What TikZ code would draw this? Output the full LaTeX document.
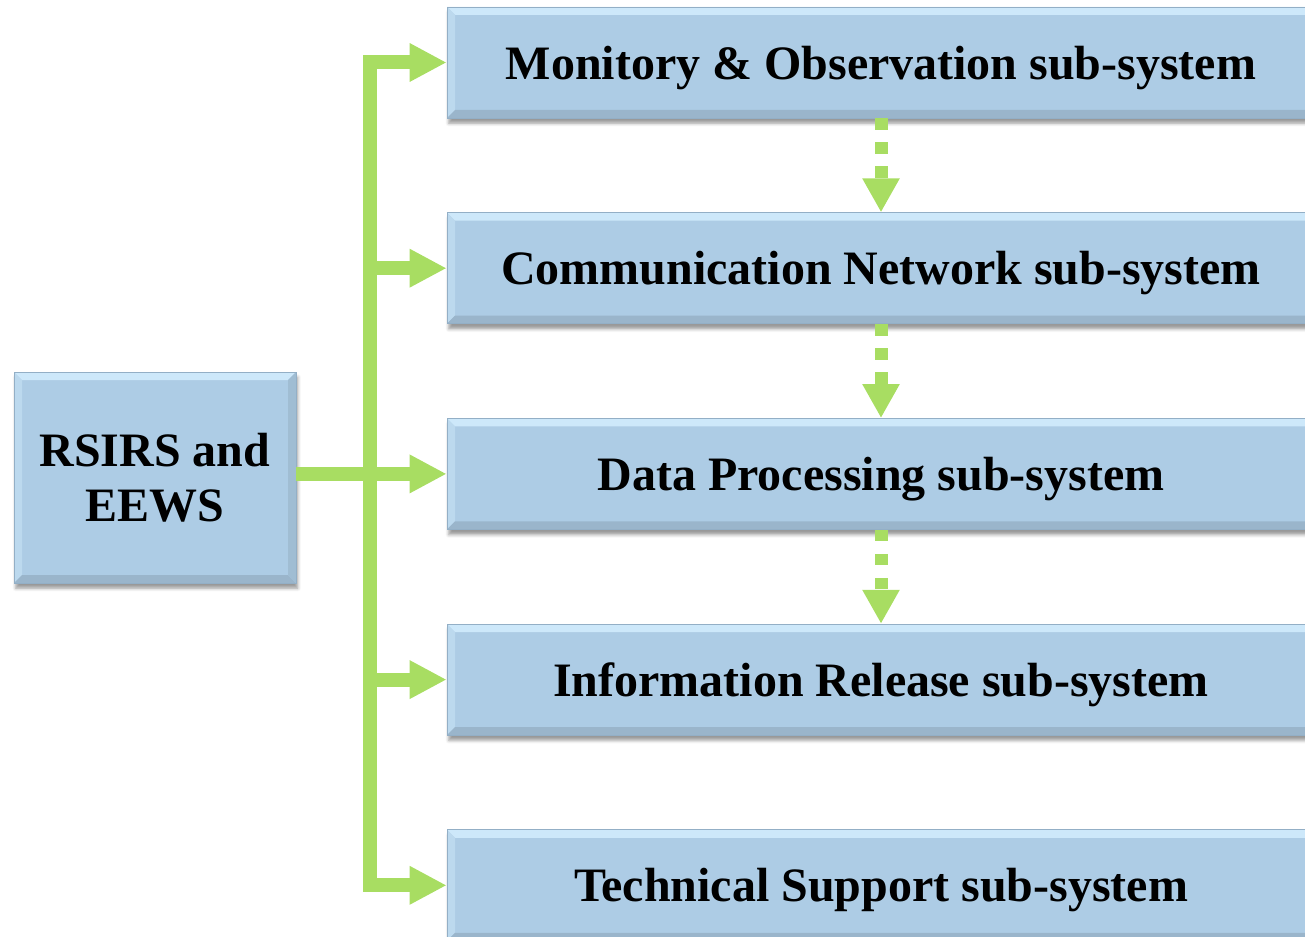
\documentclass[tikz,border=0pt]{standalone}
\usepackage{fontspec}
\setmainfont{Liberation Serif}
\usetikzlibrary{arrows.meta,positioning,shadows.blur}
\definecolor{boxblue}{HTML}{ADCCE5}
\definecolor{boxlight}{HTML}{CDE8FA}
\definecolor{boxside}{HTML}{BCD9EE}
\definecolor{boxdark}{HTML}{9AB5CB}
\definecolor{boxright}{HTML}{A0BDD3}
\definecolor{boxedge}{HTML}{93AFC6}
\definecolor{leafgreen}{HTML}{A8DD62}
\newcommand{\bv}{0.16cm}
\tikzset{
  bevel/.style={path picture={
    \path (path picture bounding box.north west) coordinate (pnw)
          (path picture bounding box.north east) coordinate (pne)
          (path picture bounding box.south west) coordinate (psw)
          (path picture bounding box.south east) coordinate (pse);
    \fill[boxlight] (pnw) -- (pne) -- ([shift={(-\bv,-\bv)}]pne) -- ([shift={(\bv,-\bv)}]pnw) -- cycle;
    \fill[boxside] (pnw) -- (psw) -- ([shift={(\bv,\bv)}]psw) -- ([shift={(\bv,-\bv)}]pnw) -- cycle;
    \fill[boxdark] (psw) -- (pse) -- ([shift={(-\bv,\bv)}]pse) -- ([shift={(\bv,\bv)}]psw) -- cycle;
    \fill[boxright] (pne) -- (pse) -- ([shift={(-\bv,\bv)}]pse) -- ([shift={(-\bv,-\bv)}]pne) -- cycle;
  }},
  block/.style={draw=boxedge, line width=.4pt, fill=boxblue, bevel,
    blur shadow={shadow xshift=1pt, shadow yshift=-3pt},
    font=\fontsize{27.3}{31.5}\selectfont\bfseries, align=center},
  subsys/.style={block, minimum width=17.36cm, minimum height=2.22cm, text depth=0pt},
  feed/.style={leafgreen, line width=0.28cm, -{Triangle[length=0.74cm,width=0.72cm]}},
  bus/.style={leafgreen, line width=0.28cm, line cap=rect},
  relay/.style={leafgreen, line width=0.26cm, dash pattern=on 0.23cm off 0.25cm,
    -{Triangle[length=0.68cm,width=0.7cm]}}
}

\begin{document}
\begin{tikzpicture}
  \useasboundingbox (0,0) rectangle (26.1,18.72);
  \clip (0,0) rectangle (26.1,18.72);

  % the system and its five parts
  \node[block, minimum width=5.64cm, minimum height=4.22cm] (rs) at (3.1,9.17) {RSIRS and\\EEWS};
  \node[subsys] (mo) at (17.62,17.47) {Monitory \& Observation sub-system};
  \node[subsys, below=1.88cm of mo] (cn) {Communication Network sub-system};
  \node[subsys, below=1.88cm of cn] (dp) {Data Processing sub-system};
  \node[subsys, below=1.88cm of dp] (ir) {Information Release sub-system};
  \node[subsys, below=1.88cm of ir] (ts) {Technical Support sub-system};

  % green bus
  \coordinate (bus) at (7.39,0);
  \draw[bus] (bus |- mo.west) -- (bus |- ts.west);
  \draw[feed] (rs.east |- dp.west) -- (dp.west);
  \foreach \n in {mo,cn,ir,ts}
    \draw[feed] (bus |- \n.west) -- (\n.west);

  % data passed down the chain
  \foreach \a/\b in {mo/cn,cn/dp,dp/ir}
    \draw[relay] (\a.south) -- (\b.north);
\end{tikzpicture}
\end{document}
